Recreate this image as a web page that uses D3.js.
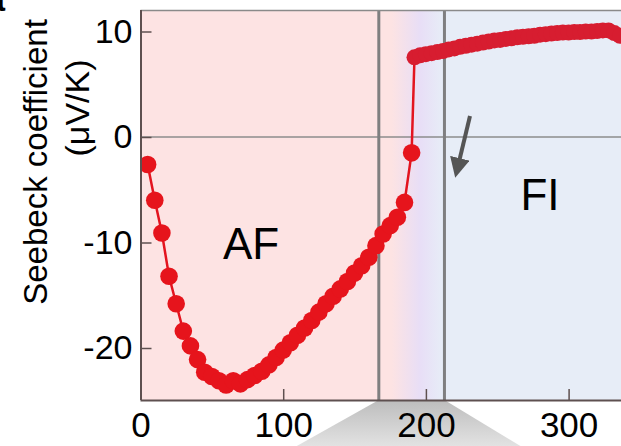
<!DOCTYPE html>
<html>
<head>
<meta charset="utf-8">
<script src="https://cdn.jsdelivr.net/npm/d3@7"></script>
<style>
  body { margin: 0; background: #fff; }
  text { font-family: "Liberation Sans", Arial, Helvetica, sans-serif; }
</style>
</head>
<body>
<div id="chart"></div>
<script>
// temperature (K) and Seebeck coefficient (uV/K)
const tempsAF = [5, 10, 15, 20, 25, 30, 35, 40, 45, 50, 55, 60, 65, 70, 75, 80, 85, 90, 95, 100,
  105, 110, 115, 120, 125, 130, 135, 140, 145, 150, 155, 160, 165, 170, 175, 180, 185, 190];
const seebeckAF = [-2.6, -6.0, -9.1, -13.2, -15.8, -18.4, -19.8, -21.1, -22.3, -22.7, -23.1, -23.5, -23.1, -23.4, -23.0, -22.6, -22.2, -21.6, -20.9, -20.2,
  -19.5, -18.8, -18.1, -17.4, -16.6, -15.8, -15.1, -14.4, -13.7, -12.9, -12.2, -11.4, -10.3, -9.2, -8.4, -7.6, -6.2, -1.5];
const tempsFI = [192, 196, 200, 204, 208, 212, 216, 220, 224, 228, 232, 236, 240, 244, 248, 252, 256, 260, 264, 268,
  272, 276, 280, 284, 288, 292, 296, 300, 304, 308, 312, 316, 320, 324, 328, 332, 336];
const seebeckFI = [7.55, 7.75, 7.85, 7.95, 8.05, 8.15, 8.3, 8.4, 8.55, 8.65, 8.75, 8.85, 8.95, 9.05, 9.15, 9.2, 9.3, 9.35, 9.45, 9.5,
  9.55, 9.6, 9.7, 9.75, 9.8, 9.85, 9.9, 9.9, 9.95, 9.95, 10.0, 10.0, 10.05, 10.1, 10.1, 9.85, 9.6];

const xTicks = [0, 100, 200, 300];
const yTicks = [10, 0, -10, -20];
const markerLines = [167, 213];   // vertical guide lines (K)
const crossover = [176, 212];     // AF -> FI shading gradient (K)

const W = 621, H = 446;
const plotLeft = 140.5, plotTop = 10, plotBottom = 400;

const x = d3.scaleLinear().domain([0, 350]).range([plotLeft, plotLeft + 350 * 1.427]);
const y = d3.scaleLinear().domain([-20, 10]).range([348, 31.5]);

const svg = d3.select("#chart").append("svg")
  .attr("width", W)
  .attr("height", H);

const defs = svg.append("defs");
const bg = defs.append("linearGradient")
  .attr("id", "bg")
  .attr("gradientUnits", "userSpaceOnUse")
  .attr("x1", x(crossover[0])).attr("x2", x(crossover[1]))
  .attr("y1", 0).attr("y2", 0);
bg.append("stop").attr("offset", 0).attr("stop-color", "#fde3e3");
bg.append("stop").attr("offset", 0.55).attr("stop-color", "#e8def6");
bg.append("stop").attr("offset", 1).attr("stop-color", "#e7edf7");

const fan = defs.append("linearGradient")
  .attr("id", "fan")
  .attr("x1", 0).attr("x2", 0).attr("y1", 0).attr("y2", 1);
fan.append("stop").attr("offset", 0).attr("stop-color", "#bdbdbd");
fan.append("stop").attr("offset", 1).attr("stop-color", "#e2e2e2");

defs.append("clipPath").attr("id", "clip")
  .append("rect")
  .attr("x", plotLeft).attr("y", plotTop)
  .attr("width", W - plotLeft).attr("height", plotBottom - plotTop);

// zoom fan below the axis, pointing to an inset
svg.append("path")
  .attr("d", `M${x(markerLines[0])},${plotBottom} L${x(markerLines[1])},${plotBottom} L${x(markerLines[1]) + 76},${H} L${x(markerLines[0]) - 82},${H} Z`)
  .attr("fill", "url(#fan)");

// plot background
svg.append("rect")
  .attr("x", plotLeft).attr("y", plotTop)
  .attr("width", W - plotLeft).attr("height", plotBottom - plotTop)
  .attr("fill", "url(#bg)");

const plot = svg.append("g").attr("clip-path", "url(#clip)");

// zero line
plot.append("line")
  .attr("x1", plotLeft).attr("x2", W)
  .attr("y1", y(0)).attr("y2", y(0))
  .attr("stroke", "#8c8c8c").attr("stroke-width", 1.5);

// top border
svg.append("line")
  .attr("x1", plotLeft).attr("x2", W)
  .attr("y1", plotTop + 0.5).attr("y2", plotTop + 0.5)
  .attr("stroke", "#8a8a8a").attr("stroke-width", 1.5);

// vertical guide lines
plot.selectAll(".vline")
  .data(markerLines)
  .join("line")
  .attr("class", "vline")
  .attr("x1", d => x(d)).attr("x2", d => x(d))
  .attr("y1", plotTop).attr("y2", plotBottom)
  .attr("stroke", "#7f7f80").attr("stroke-width", 3);

// data
const data = tempsAF.map((t, i) => ({ t, s: seebeckAF[i] }))
  .concat(tempsFI.map((t, i) => ({ t, s: seebeckFI[i] })));

plot.append("path")
  .datum(data)
  .attr("fill", "none")
  .attr("stroke", "#e3141f")
  .attr("stroke-width", 2.5)
  .attr("d", d3.line().x(d => x(d.t)).y(d => y(d.s)));

plot.selectAll("circle")
  .data(data)
  .join("circle")
  .attr("cx", d => x(d.t))
  .attr("cy", d => y(d.s))
  .attr("r", d => d.t > 191 ? 8 : 8.8)
  .attr("fill", d => d.t > 191 ? "#d71d30" : "#e6141c");

// axes (inward ticks)
const xAxis = svg.append("g")
  .attr("transform", `translate(0,${plotBottom})`)
  .call(d3.axisBottom(x).tickValues(xTicks).tickSize(-11).tickPadding(12).tickSizeOuter(0));
xAxis.select(".domain").attr("stroke", "#5e5050").attr("stroke-width", 2).attr("d", `M${plotLeft},0.5H${W}`);
xAxis.selectAll(".tick line").attr("stroke", "#5e5050").attr("stroke-width", 1.5);
xAxis.selectAll(".tick text")
  .attr("font-size", 35).attr("fill", "#000")
  .attr("font-family", "Liberation Sans, Arial, sans-serif")
  .attr("dy", "0.71em").attr("y", 12);

const yAxis = svg.append("g")
  .attr("transform", `translate(${plotLeft},0)`)
  .call(d3.axisLeft(y).tickValues(yTicks).tickSize(-11).tickPadding(9).tickSizeOuter(0)
    .tickFormat(d => d < 0 ? "-" + Math.abs(d) : d));
yAxis.select(".domain").attr("stroke", "#5e5050").attr("stroke-width", 2).attr("d", `M0.5,${plotTop}V${plotBottom}`);
yAxis.selectAll(".tick line").attr("stroke", "#5e5050").attr("stroke-width", 1.5);
yAxis.selectAll(".tick text")
  .attr("font-size", 34).attr("fill", "#000")
  .attr("font-family", "Liberation Sans, Arial, sans-serif")
  .attr("x", -8);

// y axis title
svg.append("text")
  .attr("transform", "translate(47,162) rotate(-90)")
  .attr("text-anchor", "middle")
  .attr("font-size", 33)
  .text("Seebeck coefficient");
svg.append("text")
  .attr("transform", "translate(89,108) rotate(-90)")
  .attr("text-anchor", "middle")
  .attr("font-size", 34)
  .text("(μV/K)");

// phase labels
svg.append("text")
  .attr("x", 251).attr("y", 259)
  .attr("text-anchor", "middle")
  .attr("font-size", 44)
  .text("AF");
svg.append("text")
  .attr("x", 540).attr("y", 210)
  .attr("text-anchor", "middle")
  .attr("font-size", 44)
  .text("FI");

// arrow
defs.append("marker")
  .attr("id", "head")
  .attr("viewBox", "0 0 10 10")
  .attr("refX", 4).attr("refY", 5)
  .attr("markerWidth", 5).attr("markerHeight", 5)
  .attr("orient", "auto")
  .append("path").attr("d", "M0,0 L10,5 L0,10 Z").attr("fill", "#555");
svg.append("line")
  .attr("x1", 470).attr("y1", 116)
  .attr("x2", 458).attr("y2", 166)
  .attr("stroke", "#555").attr("stroke-width", 4)
  .attr("marker-end", "url(#head)");

// panel letter (cut off at the edge)
svg.append("text")
  .attr("x", -15).attr("y", 11)
  .attr("font-size", 36).attr("font-weight", "bold")
  .text("a");
</script>
</body>
</html>
